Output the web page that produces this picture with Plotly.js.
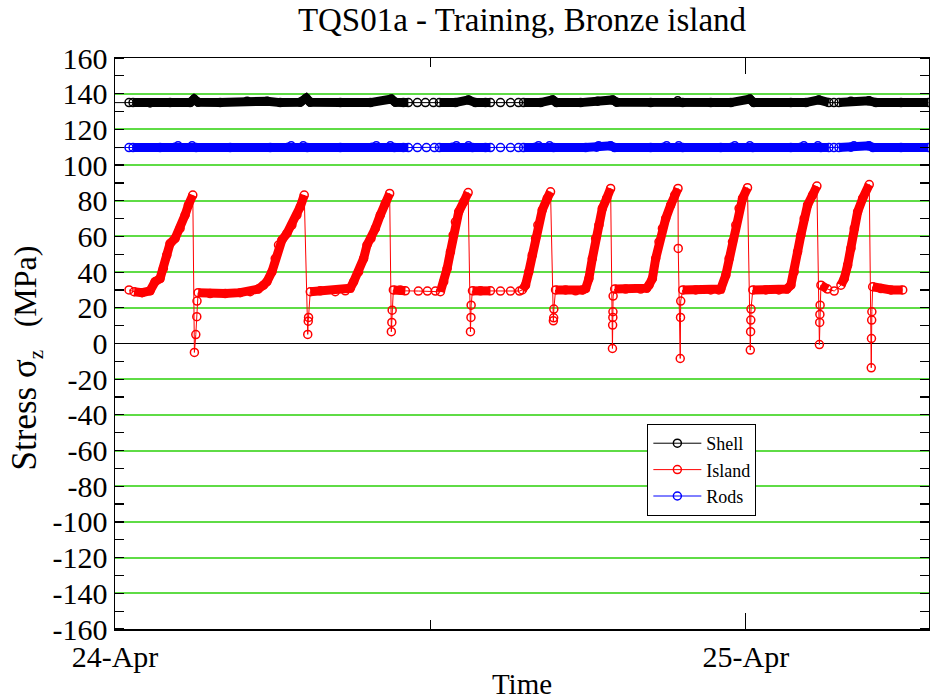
<!DOCTYPE html>
<html>
<head>
<meta charset="utf-8">
<script src="https://cdn.plot.ly/plotly-3.0.1.min.js"></script>
<style>
  html, body { margin: 0; padding: 0; background: #ffffff; }
  #chart { width: 930px; height: 700px; }
</style>
</head>
<body>
<div id="chart"></div>
<script>
// ---------------- data (time in hours after 24-Apr 00:00, stress in MPa) ----------------
const startDay = '2006-04-24';
const xTickHours = [0, 24];
const xTickLabels = ['24-Apr', '25-Apr'];
const yTickVals = [160, 140, 120, 100, 80, 60, 40, 20, 0, -20, -40, -60, -80, -100, -120, -140, -160];
const yTickLabels = ['160', '140', '120', '100', '80', '60', '40', '20', '0', '-20', '-40', '-60', '-80', '-100', '-120', '-140', '-160'];
const seriesNames = ['Shell', 'Island', 'Rods'];

// periods where the logger recorded only sparse samples (hours)
const sparseLogging = [[-0.1, 0.66], [11.09, 12.33], [14.2, 15.47], [27.2, 27.5]];

const shellTime = [-0.038, 0.533, 0.686, 1.333, 2.095, 2.857, 3.010, 3.162, 4.000, 5.029,
  5.790, 6.286, 7.048, 7.276, 7.429, 8.571, 9.714, 10.514, 10.667, 10.971,
  11.162, 11.505, 11.810, 12.114, 12.343, 12.952, 13.448, 13.714, 14.095, 14.286,
  14.667, 15.048, 15.352, 15.543, 16.190, 16.648, 16.800, 17.714, 18.362, 18.933,
  19.086, 20.381, 21.410, 21.600, 22.667, 23.429, 24.152, 24.305, 25.714, 26.286,
  26.781, 27.162, 27.352, 27.543, 28.000, 28.686, 28.952, 29.905, 30.95];
const shellVal = [135, 135, 135, 134.8, 135, 135, 137, 135.2, 135, 135.8,
  135.8, 135, 135.2, 137.5, 135.2, 135, 135, 137, 135.2, 135,
  135, 135, 135, 135, 135, 135, 136.5, 135, 135, 135,
  135, 135, 135, 135, 135, 136.5, 135, 135, 135.8, 136.5,
  135.2, 135, 136, 135, 135, 135, 137, 135, 135, 135,
  136.5, 135, 135, 135, 135.8, 136, 135, 135, 135];

const rodsTime = [-0.038, 0.533, 0.686, 1.714, 2.286, 2.400, 2.933, 3.086, 4.381, 5.905,
  6.590, 6.705, 7.162, 7.314, 8.571, 9.790, 9.943, 10.476, 10.629, 10.971,
  11.162, 11.505, 11.848, 12.152, 12.343, 12.838, 12.990, 13.448, 13.600, 14.095,
  14.286, 14.667, 15.048, 15.352, 15.543, 16.000, 16.114, 16.533, 16.686, 17.905,
  18.324, 18.400, 18.857, 19.010, 20.381, 20.876, 20.990, 21.448, 21.600, 23.048,
  23.467, 23.581, 24.152, 24.267, 25.714, 26.095, 26.210, 26.743, 26.857, 27.162,
  27.352, 27.543, 28.000, 28.114, 28.686, 28.838, 29.905, 30.95];
const rodsVal = [109.8, 109.8, 109.8, 109.8, 110, 110.8, 110.8, 109.8, 109.8, 109.8,
  110, 110.8, 110.8, 109.8, 109.8, 110, 110.8, 110.8, 109.8, 109.8,
  109.8, 109.8, 109.8, 109.8, 109.8, 110, 110.8, 110.8, 109.8, 109.8,
  109.8, 109.8, 109.8, 109.8, 109.8, 110, 110.8, 110.8, 109.8, 109.8,
  110, 110.8, 110.8, 109.8, 109.8, 110, 110.8, 110.8, 109.8, 109.8,
  110, 110.8, 110.8, 109.8, 109.8, 110, 110.8, 110.8, 109.8, 109.8,
  109.8, 109.8, 110, 110.8, 110.8, 109.8, 109.8, 109.8];

const islandTime = [0.533, 0.724, 1.029, 1.333, 1.524, 1.714, 1.840, 1.970, 2.095, 2.286,
  2.476, 2.667, 2.792, 2.960, 3.021, 3.074, 3.112, 3.120, 3.162, 3.619,
  4.190, 4.762, 5.143, 5.448, 5.650, 5.779, 5.970, 6.095, 6.221, 6.350,
  6.541, 6.731, 6.922, 7.048, 7.200, 7.333, 7.352, 7.364, 7.429, 7.810,
  8.381, 8.762, 8.952, 9.078, 9.269, 9.459, 9.589, 9.741, 9.905, 10.095,
  10.286, 10.450, 10.514, 10.533, 10.545, 10.590, 10.857, 11.048, 11.543, 11.886,
  12.190, 12.381, 12.507, 12.636, 12.762, 12.865, 12.952, 13.078, 13.269, 13.436,
  13.524, 13.543, 13.550, 13.600, 13.905, 14.286, 14.667, 15.048, 15.390, 15.493,
  15.619, 15.745, 15.874, 16.000, 16.088, 16.255, 16.446, 16.571, 16.678, 16.690,
  16.697, 16.762, 17.143, 17.524, 17.790, 17.905, 18.030, 18.160, 18.286, 18.411,
  18.541, 18.705, 18.857, 18.926, 18.933, 18.941, 18.945, 18.952, 19.010, 19.429,
  20.000, 20.229, 20.316, 20.446, 20.571, 20.697, 20.827, 20.952, 21.143, 21.295,
  21.421, 21.429, 21.505, 21.516, 21.524, 21.600, 22.095, 22.667, 22.971, 23.048,
  23.238, 23.364, 23.493, 23.619, 23.745, 23.874, 24.065, 24.171, 24.183, 24.190,
  24.198, 24.267, 24.762, 25.257, 25.562, 25.714, 25.840, 25.970, 26.095, 26.221,
  26.350, 26.541, 26.705, 26.800, 26.811, 26.819, 26.827, 26.857, 27.112, 27.364,
  27.619, 27.745, 27.874, 28.000, 28.126, 28.255, 28.446, 28.697, 28.773, 28.781,
  28.789, 28.796, 28.827, 29.143, 29.524, 29.970];
const islandVal = [30, 29, 28.5, 29.5, 34.6, 36.4, 42, 49.5, 56, 58.9,
  64.5, 72, 77.6, 83.2, -5, 5, 15, 23.8, 28.5, 28,
  28, 28.5, 29, 30.5, 32.7, 34.6, 40.2, 47.6, 55.2, 58,
  61.7, 66.4, 72, 76.6, 83.2, 5.1, 12.5, 14.6, 29, 29.5,
  29, 29.5, 31, 34.6, 40.2, 47.6, 55.2, 58.9, 64.5, 72,
  78.5, 84.1, 6.6, 11.8, 18.7, 30, 30, 29.5, 29.4, 29.4,
  29.4, 29, 34.6, 42, 51.4, 60.8, 68.2, 73.8, 79.4, 84.6,
  6.6, 14.6, 21.5, 29.5, 29.5, 29.5, 29.4, 29.4, 29.4, 30,
  32.7, 40.2, 49.5, 58.9, 66.4, 74.8, 81.3, 85, 12.7, 14.4,
  19.3, 30, 30, 29.5, 30, 30.8, 36.4, 47.6, 58.9, 66.4,
  75.7, 81.3, 86.9, -2.8, 10.3, 14.6, 17.8, 26.6, 30.5, 30.5,
  30.5, 31, 32.7, 36.4, 47.6, 57, 64.5, 70, 77.6, 83.2,
  86.9, 53.3, -8.4, 14.6, 23.8, 30, 30, 30, 30, 30.5,
  38.3, 47.6, 57, 66.4, 75.7, 81.3, 87.3, -3.7, 6.6, 13.1,
  19.3, 30, 30, 30, 30.5, 32.7, 40.2, 51.4, 60.8, 70,
  77.6, 83.2, 88.2, -0.6, 11.8, 16.3, 21.5, 32.7, 30.5, 29.4,
  32.7, 36.4, 43.9, 53.3, 64.5, 73.8, 81.3, 89.1, -13.6, 2.8,
  13.1, 17.8, 31.8, 30.8, 30, 30];

// ---------------- helpers ----------------
const BASE = Date.parse(startDay + 'T00:00:00Z');
function toDate(h) {
  return new Date(BASE + h * 3600000).toISOString().replace('T', ' ').replace('Z', '');
}
function inSparse(t) {
  return sparseLogging.some(g => t > g[0] && t < g[1]);
}
// dense-logging runs appear as a solid band of overlapping symbols;
// transient quench spikes (below the flat level) stay thin
function denseBand(ts, vs, floor) {
  const x = [], y = [];
  let open = false;
  for (let i = 0; i < ts.length - 1; i++) {
    const ok = !inSparse((ts[i] + ts[i + 1]) / 2) &&
      Math.abs(vs[i + 1] - vs[i]) < 20 && vs[i] >= floor && vs[i + 1] >= floor;
    if (ok) {
      if (!open) {
        if (x.length) { x.push(null); y.push(null); }
        x.push(toDate(ts[i])); y.push(vs[i]);
        open = true;
      }
      x.push(toDate(ts[i + 1])); y.push(vs[i + 1]);
    } else {
      open = false;
    }
  }
  return { x, y };
}

const colors = { Shell: '#000000', Island: '#ff0000', Rods: '#0000ff' };
const series = [
  { name: seriesNames[0], t: shellTime, v: shellVal, floor: -Infinity },
  { name: seriesNames[1], t: islandTime, v: islandVal, floor: 27.5 },
  { name: seriesNames[2], t: rodsTime, v: rodsVal, floor: -Infinity }
];

const traces = [];
series.forEach(s => {
  const b = denseBand(s.t, s.v, s.floor);
  traces.push({
    type: 'scatter', mode: 'lines', x: b.x, y: b.y, connectgaps: false,
    line: { color: colors[s.name], width: 9 }, showlegend: false, hoverinfo: 'skip'
  });
});
series.forEach(s => {
  traces.push({
    type: 'scatter', mode: 'lines+markers', name: s.name,
    x: s.t.map(toDate), y: s.v, cliponaxis: false,
    line: { color: colors[s.name], width: 1 },
    marker: { symbol: 'circle-open', size: 8, color: colors[s.name], line: { width: 1.5, color: colors[s.name] } }
  });
});

const serif = 'Liberation Serif';
const nb = '\u00a0';
const layout = {
  width: 930, height: 700,
  margin: { l: 115, r: 1, t: 58, b: 71 },
  paper_bgcolor: '#ffffff', plot_bgcolor: '#ffffff',
  font: { family: serif, color: '#000000' },
  title: {
    text: 'TQS01a - Training, Bronze island',
    font: { family: serif, size: 33, color: '#000000' },
    xref: 'paper', x: 0.5, xanchor: 'center',
    yref: 'container', y: 0.972, yanchor: 'middle'
  },
  xaxis: {
    type: 'date',
    range: [toDate(0), toDate(30.97)],
    tickmode: 'array',
    tickvals: xTickHours.map(toDate),
    ticktext: xTickLabels,
    ticks: 'inside', ticklen: 16, tickwidth: 1.2, tickcolor: '#000000',
    minor: { tickvals: [toDate(12)], ticks: 'inside', ticklen: 9, tickwidth: 1.2, tickcolor: '#000000', showgrid: false },
    showline: true, linecolor: '#000000', linewidth: 1.5, mirror: 'ticks',
    showgrid: false, zeroline: false,
    tickfont: { family: serif, size: 30, color: '#000000' },
    title: { text: 'Time', font: { family: serif, size: 29, color: '#000000' }, standoff: 2 }
  },
  yaxis: {
    range: [-160, 160],
    tickmode: 'array', tickvals: yTickVals, ticktext: yTickLabels,
    ticks: '',
    minor: { dtick: 10, tick0: 0, ticks: 'inside', ticklen: 9, tickwidth: 1.2, tickcolor: '#000000', showgrid: false },
    showline: true, linecolor: '#000000', linewidth: 1.5, mirror: 'ticks',
    showgrid: true, gridcolor: 'rgb(95,220,70)', gridwidth: 2,
    zeroline: true, zerolinecolor: '#000000', zerolinewidth: 1.5,
    tickfont: { family: serif, size: 30, color: '#000000' }
  },
  annotations: [{
    // y-axis title, placed to match the original's slightly lowered position
    text: '<span style="font-size:35px">Stress σ</span><sub>z</sub>' + nb.repeat(3) + '<span style="font-size:32px">(MPa)</span>',
    font: { family: serif, size: 30, color: '#000000' },
    textangle: -90, showarrow: false,
    xref: 'paper', x: -0.1082, xanchor: 'center',
    yref: 'paper', y: 0.4755, yanchor: 'middle'
  }],
  legend: {
    x: 0.654, y: 0.359, xanchor: 'left', yanchor: 'top',
    bgcolor: '#ffffff', bordercolor: '#000000', borderwidth: 1,
    font: { family: serif, size: 18, color: '#000000' },
    tracegroupgap: 0, itemwidth: 48
  },
  showlegend: true
};

Plotly.newPlot('chart', traces, layout, { staticPlot: true, displayModeBar: false });
</script>
</body>
</html>
